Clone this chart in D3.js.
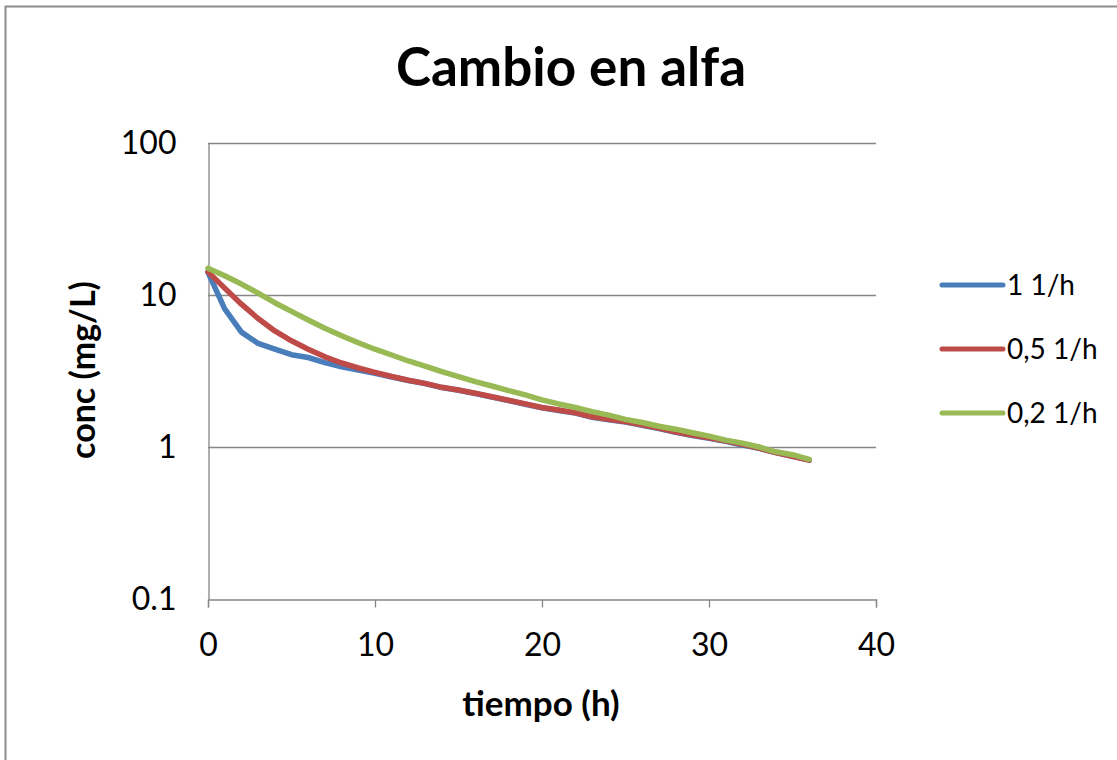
<!DOCTYPE html>
<html>
<head>
<meta charset="utf-8">
<script src="https://cdn.jsdelivr.net/npm/d3@7"></script>
<style>
  html, body { margin: 0; padding: 0; background: #fff; }
  svg { display: block; }
  text { font-family: Lato, "Open Sans", sans-serif; fill: #000; }
</style>
</head>
<body>
<svg id="chart" width="1117" height="760"></svg>
<script>
// Time points (h) and concentration (mg/L) for each alpha value
const tiempo = d3.range(0, 37);

const alfa1 = [14.1, 8.1, 5.7, 4.8, 4.4, 4.05, 3.88, 3.59, 3.37, 3.21, 3.05,
  2.89, 2.74, 2.61, 2.46, 2.36, 2.25, 2.13, 2.02, 1.91, 1.81, 1.74, 1.67, 1.57,
  1.51, 1.46, 1.39, 1.32, 1.25, 1.19, 1.14, 1.09, 1.03, 0.98, 0.92, 0.87, 0.82];

const alfa05 = [14.2, 11.1, 8.7, 7.0, 5.8, 5.0, 4.4, 3.92, 3.57, 3.31, 3.1,
  2.91, 2.75, 2.62, 2.47, 2.37, 2.26, 2.14, 2.03, 1.92, 1.82, 1.75, 1.68, 1.58,
  1.52, 1.47, 1.40, 1.33, 1.26, 1.20, 1.15, 1.10, 1.04, 0.985, 0.92, 0.87, 0.82];

const alfa02 = [15.0, 13.4, 11.8, 10.3, 8.9, 7.8, 6.85, 6.05, 5.4, 4.85, 4.4,
  4.03, 3.68, 3.41, 3.13, 2.90, 2.69, 2.52, 2.35, 2.20, 2.04, 1.92, 1.82, 1.71,
  1.62, 1.52, 1.45, 1.37, 1.31, 1.24, 1.18, 1.11, 1.06, 1.00, 0.93, 0.89, 0.83];

const seriesNames = ["1 1/h", "0,5 1/h", "0,2 1/h"];
const seriesColors = ["#4A7EBB", "#BE4B48", "#98B954"];
const xTicks = [0, 10, 20, 30, 40];
const yTicks = [0.1, 1, 10, 100];
const yTickLabels = ["0.1", "1", "10", "100"];

const svg = d3.select("#chart");

// outer frame
svg.append("rect")
  .attr("x", 5.5).attr("y", 6.5)
  .attr("width", 1200).attr("height", 900)
  .attr("fill", "none").attr("stroke", "#8c8c8c").attr("stroke-width", 2);

const plot = { left: 208, right: 876, top: 143, bottom: 599 };

const x = d3.scaleLinear().domain([0, 40]).range([plot.left, plot.right]);
const y = d3.scaleLog().domain([0.1, 100]).range([plot.bottom, plot.top]);

// horizontal gridlines
svg.append("g")
  .selectAll("line")
  .data(yTicks.filter(v => v > 0.1))
  .join("line")
  .attr("x1", plot.left).attr("x2", plot.right)
  .attr("y1", d => Math.round(y(d)) + 0.5).attr("y2", d => Math.round(y(d)) + 0.5)
  .attr("stroke", "#868686").attr("stroke-width", 1.3);

// x axis
const xAxis = svg.append("g")
  .attr("transform", `translate(0,${plot.bottom + 0.5})`)
  .call(d3.axisBottom(x).tickValues(xTicks).tickSize(8).tickPadding(26)
    .tickFormat(d3.format("d")));
xAxis.select(".domain").attr("stroke", "#868686").attr("stroke-width", 1.3);
xAxis.selectAll(".tick line").attr("stroke", "#868686").attr("stroke-width", 1.3);
xAxis.selectAll(".tick text")
  .style("font-size", "32px").style("font-family", "Lato, sans-serif").attr("fill", "#000");

// y axis
const yAxis = svg.append("g")
  .attr("transform", `translate(${plot.left + 0.5},0)`)
  .call(d3.axisLeft(y).tickValues(yTicks).tickSize(0).tickPadding(32)
    .tickFormat((d, i) => yTickLabels[i]));
yAxis.select(".domain").attr("stroke", "#868686").attr("stroke-width", 1.3);
yAxis.selectAll(".tick text")
  .style("font-size", "32px").style("font-family", "Lato, sans-serif").attr("fill", "#000");

// series lines
const line = d3.line()
  .x((d, i) => x(tiempo[i]))
  .y(d => y(d));

const allSeries = [alfa1, alfa05, alfa02];
svg.append("g")
  .selectAll("path")
  .data(allSeries)
  .join("path")
  .attr("d", d => line(d))
  .attr("fill", "none")
  .attr("stroke", (d, i) => seriesColors[i])
  .attr("stroke-width", 5.5)
  .attr("stroke-linejoin", "round")
  .attr("stroke-linecap", "round");

// title
svg.append("text")
  .attr("x", 571).attr("y", 86)
  .attr("text-anchor", "middle")
  .style("font-size", "53px").style("font-weight", "bold")
  .text("Cambio en alfa");

// axis titles
svg.append("text")
  .attr("x", 541).attr("y", 716)
  .attr("text-anchor", "middle")
  .style("font-size", "35px").style("font-weight", "bold")
  .text("tiempo (h)");

svg.append("text")
  .attr("transform", "translate(95,370) rotate(-90)")
  .attr("text-anchor", "middle")
  .style("font-size", "34px").style("font-weight", "bold")
  .text("conc (mg/L)");

// legend
const legendY = [285, 349, 413];
const legend = svg.append("g")
  .selectAll("g")
  .data(seriesNames)
  .join("g")
  .attr("transform", (d, i) => `translate(942,${legendY[i]})`);
legend.append("line")
  .attr("x1", 0).attr("x2", 61)
  .attr("stroke", (d, i) => seriesColors[i])
  .attr("stroke-width", 5).attr("stroke-linecap", "round");
legend.append("text")
  .attr("x", 65).attr("y", 10)
  .style("font-size", "28px")
  .text(d => d);
</script>
</body>
</html>
